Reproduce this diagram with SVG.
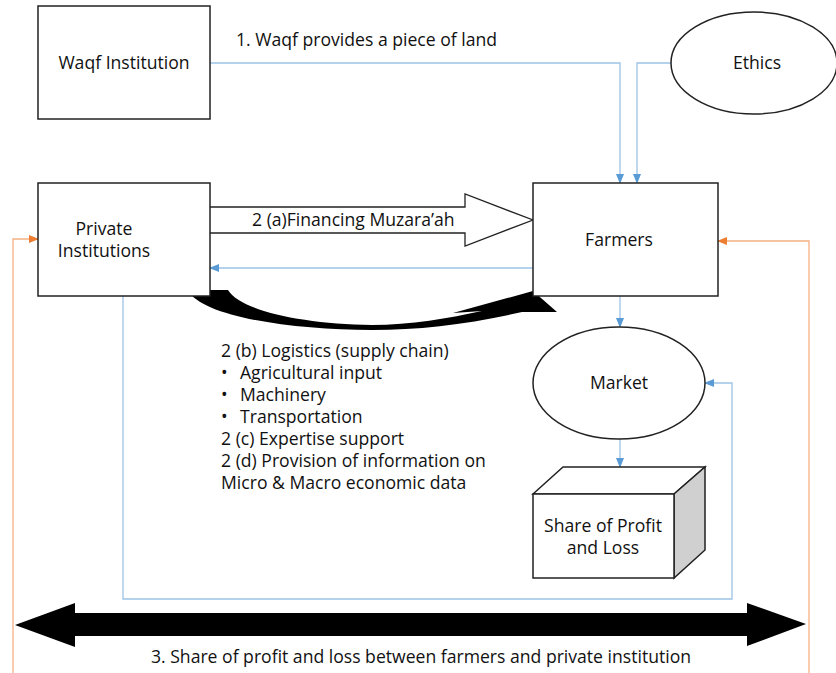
<svg xmlns="http://www.w3.org/2000/svg" width="836" height="673" viewBox="0 0 836 673">
<style>
.box{fill:#fff;stroke:#222;stroke-width:1.5}
.t{font-family:"Open Sans","Liberation Sans",Arial,sans-serif;font-size:17.6px;fill:#111}
.c{text-anchor:middle}
.blue{fill:none;stroke:#9dc3e6;stroke-width:1.3}
.orange{fill:none;stroke:#f4b183;stroke-width:1.3}
</style>
<defs>
<marker id="ab" markerWidth="10" markerHeight="10" refX="9" refY="5" orient="auto" markerUnits="userSpaceOnUse"><path d="M0,1 L10,5 L0,9 Z" fill="#5b9bd5"/></marker>
<marker id="ao" markerWidth="10" markerHeight="10" refX="9" refY="5" orient="auto" markerUnits="userSpaceOnUse"><path d="M0,1 L10,5 L0,9 Z" fill="#ed7d31"/></marker>
</defs>
<rect width="836" height="673" fill="#fff"/>
<g id="connectors">
<polyline class="blue" points="210,63 620,63 620,183" marker-end="url(#ab)"/>
<polyline class="blue" points="671,63 637,63 637,183" marker-end="url(#ab)"/>
<line class="blue" x1="533" y1="268" x2="210" y2="268" marker-end="url(#ab)"/>
<line class="blue" x1="620" y1="296" x2="620" y2="327" marker-end="url(#ab)"/>
<line class="blue" x1="620" y1="438" x2="620" y2="467" marker-end="url(#ab)"/>
<polyline class="blue" points="123,296 123,599 732,599 732,383 705,383" marker-end="url(#ab)"/>
<polyline class="orange" points="809,673 809,241 718,241" marker-end="url(#ao)"/>
<polyline class="orange" points="13,673 13,239 38,239" marker-end="url(#ao)"/>
<path d="M210,207 L465,207 L465,194 L533,220 L465,246 L465,233 L210,233" fill="#fff" stroke="#222" stroke-width="1.3"/>
<text class="t" x="252" y="226">2 (a)Financing Muzara’ah</text>
<path d="M188,290 L228,290 C240,310 300,324 372,325 C410,325 450,318 482,311 L453,313 L533,291 L557,312 L522,312 C470,324 420,330 372,330 C290,330 200,316 188,290 Z" fill="#000"/>
<path d="M15,625 L75,603 L75,613 L747,613 L747,603 L806,624 L747,646 L747,636 L75,636 L75,647 Z" fill="#000"/>
<text class="t" x="236" y="46">1. Waqf provides a piece of land</text>
<text class="t" x="421" y="663" text-anchor="middle">3. Share of profit and loss between farmers and private institution</text>
</g>
<g id="waqf">
<rect class="box" x="38" y="6" width="172" height="113"/>
<text class="t c" x="124" y="69">Waqf Institution</text>
</g>
<g id="ethics">
<ellipse class="box" cx="754" cy="63" rx="83" ry="51"/>
<text class="t c" x="757" y="69">Ethics</text>
</g>
<g id="private">
<rect class="box" x="38" y="183" width="172" height="113"/>
<text class="t c" x="104" y="235">Private</text>
<text class="t c" x="104" y="257">Institutions</text>
</g>
<g id="farmers">
<rect class="box" x="533" y="183" width="185" height="113"/>
<text class="t c" x="619" y="246">Farmers</text>
</g>
<g id="services">
<text class="t" x="221" y="357">2 (b) Logistics (supply chain)</text>
<text class="t" x="221" y="379">•</text><text class="t" x="240" y="379">Agricultural input</text>
<text class="t" x="221" y="401">•</text><text class="t" x="240" y="401">Machinery</text>
<text class="t" x="221" y="423">•</text><text class="t" x="240" y="423">Transportation</text>
<text class="t" x="221" y="445">2 (c) Expertise support</text>
<text class="t" x="221" y="467">2 (d) Provision of information on</text>
<text class="t" x="221" y="489">Micro &amp; Macro economic data</text>
</g>
<g id="market">
<ellipse class="box" cx="619" cy="383" rx="86" ry="56"/>
<text class="t c" x="619" y="389">Market</text>
</g>
<g id="share">
<path d="M533,494 L563,467 L705,467 L674,494 Z" fill="#fff" stroke="#222" stroke-width="1.5"/>
<path d="M674,494 L705,467 L705,550 L674,578 Z" fill="#d0d0d0" stroke="#222" stroke-width="1.5"/>
<rect class="box" x="533" y="494" width="141" height="84"/>
<text class="t c" x="603" y="532">Share of Profit</text>
<text class="t c" x="603" y="554">and Loss</text>
</g>
</svg>
